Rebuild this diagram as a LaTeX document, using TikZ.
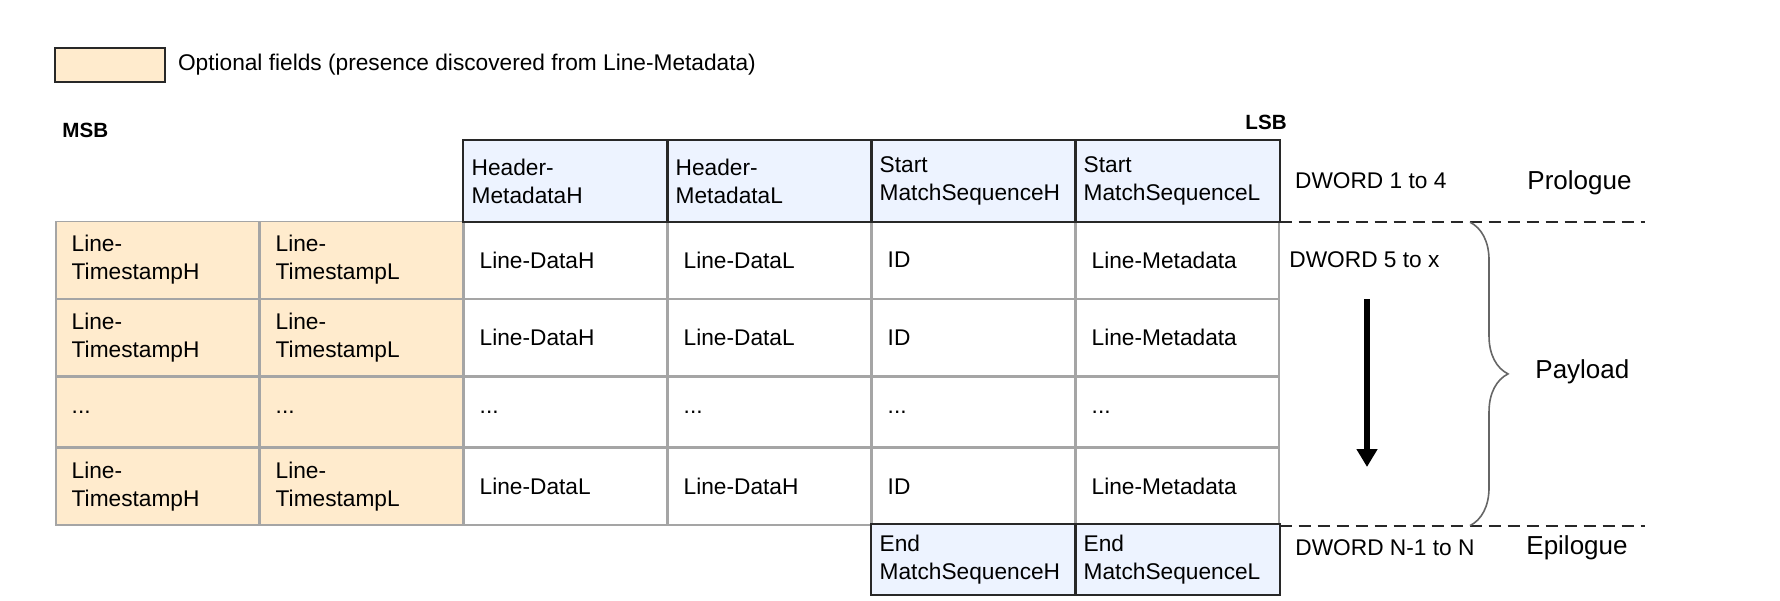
\documentclass[tikz,border=0pt]{standalone}
\usepackage{fontspec}
\setmainfont{Liberation Sans}
\usetikzlibrary{matrix,positioning,calc,arrows.meta,decorations.pathreplacing}
\definecolor{optfill}{RGB}{255,235,205}
\definecolor{hdrfill}{RGB}{237,243,255}
\definecolor{gridgray}{RGB}{165,165,165}
\definecolor{frameline}{RGB}{40,40,40}

\begin{document}
\begin{tikzpicture}[x=0.5pt, y=-0.5pt,
        row sep=-\pgflinewidth, column sep=-\pgflinewidth,
        fieldcell/.style={draw=gridgray, line width=0.8pt, fill=white, anchor=center,
          align=left, minimum width=101.6pt, minimum height=38.5pt, text width=85.6pt,
          inner xsep=8pt, inner ysep=3pt, font=\fontsize{11.35pt}{14pt}\selectfont},
        optfield/.style={fill=optfill},
        hdrfield/.style={fill=hdrfill, draw=none, text width=93.6pt, inner xsep=4pt},
        cellframe/.style={draw=frameline, line width=1pt},
        note/.style={inner sep=0pt, font=\fontsize{11.35pt}{14pt}\selectfont},
        part/.style={inner sep=0pt, font=\fontsize{13pt}{15pt}\selectfont},
        bitlabel/.style={inner sep=0pt, font=\fontsize{10.3pt}{12pt}\selectfont\bfseries},
        sepline/.style={draw=frameline, line width=1pt, dash pattern=on 6pt off 3.5pt},
        payloadbrace/.style={draw=gray!80!black, line width=0.8pt, decorate,
          decoration={brace, amplitude=19pt}},
        flowarrow/.style={line width=2.8pt, -{Triangle[length=9pt,width=10pt]}}]
        \useasboundingbox (0,0) rectangle (1780,600);

        % legend
        \node[draw=frameline, line width=0.8pt, fill=optfill, minimum width=55pt,
          minimum height=17pt, inner sep=0pt, anchor=north west] (key) at (54,47) {};
        \node[note, right=6pt of key] (keytxt) {Optional fields (presence discovered from Line-Metadata)};

        \node[bitlabel, anchor=west] (msb) at (62,130) {MSB};
        \node[bitlabel, anchor=east] (lsb) at (1287,122) {LSB};

        \matrix (m) [matrix of nodes, anchor=north west, inner sep=0pt, nodes={fieldcell},
          row 1/.style={nodes={hdrfield, minimum height=40.5pt}},
          row 4/.style={nodes={minimum height=35pt}},
          row 6/.style={nodes={hdrfield, minimum height=34.5pt}}] at (54.5,140)
        {
          & & {Header-\\MetadataH} & {Header-\\MetadataL} & {Start\\MatchSequenceH} & {Start\\MatchSequenceL} \\
          |[optfield]| {Line-\\TimestampH} & |[optfield]| {Line-\\TimestampL} & Line-DataH & Line-DataL & ID & Line-Metadata \\
          |[optfield]| {Line-\\TimestampH} & |[optfield]| {Line-\\TimestampL} & Line-DataH & Line-DataL & ID & Line-Metadata \\
          |[optfield]| ... & |[optfield]| ... & ... & ... & ... & ... \\
          |[optfield]| {Line-\\TimestampH} & |[optfield]| {Line-\\TimestampL} & Line-DataL & Line-DataH & ID & Line-Metadata \\
          & & & & {End\\MatchSequenceH} & {End\\MatchSequenceL} \\
        };
        \foreach \r/\c in {1/3, 1/4, 1/5, 1/6, 6/5, 6/6} {
          \draw[cellframe] (m-\r-\c.north west) rectangle (m-\r-\c.south east);
        };

        % right hand side
        \coordinate (rim) at (1645,0);
        \coordinate (bx) at (1470,0);
        \coordinate (atop) at (1367,299);
        \coordinate (abot) at (1367,467);
        \draw[sepline] (m-1-6.south east) -- (m-1-6.south east -| rim);
        \draw[sepline] (m-5-6.south east) -- (m-5-6.south east -| rim);
        \draw[payloadbrace] (m-1-6.south east -| bx) -- (m-5-6.south east -| bx);
        \draw[flowarrow] (atop) -- (abot);

        \node[note, right=7.5pt of m-1-6] (dw1) {DWORD 1 to 4};
        \node[note, anchor=west] (dw5) at (1289,260) {DWORD 5 to x};
        \node[note, anchor=west] (dwn) at (1295,548) {DWORD N-1 to N};
        \node[part, anchor=west] (prol) at (1527,183) {Prologue};
        \node[part, anchor=west] (pay) at (1535,372) {Payload};
        \node[part, anchor=west] (epil) at (1526,548) {Epilogue};
      \end{tikzpicture}
\end{document}
